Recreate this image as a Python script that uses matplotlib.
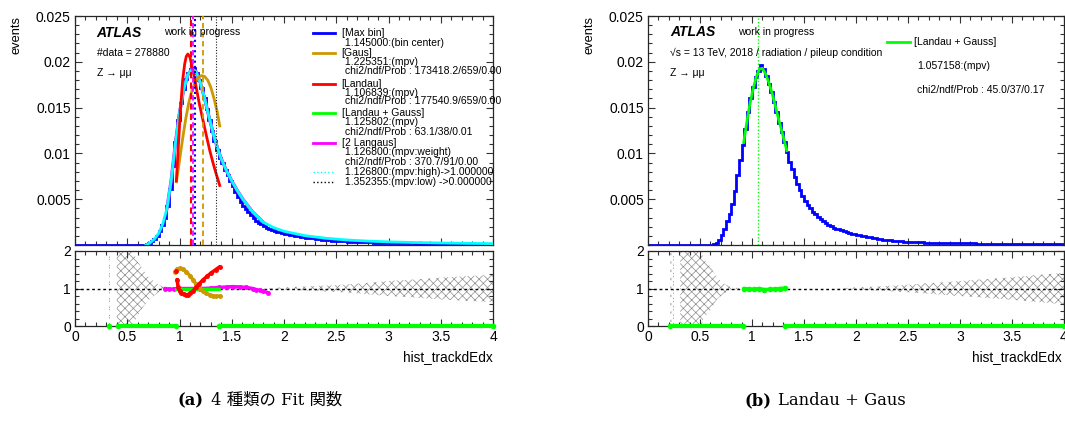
import numpy as np
import matplotlib
matplotlib.use('Agg')
import matplotlib.pyplot as plt
from matplotlib.lines import Line2D
from matplotlib.ticker import MultipleLocator, FuncFormatter

plt.rcParams['font.family'] = ['Liberation Sans', 'DejaVu Sans']
plt.rcParams['hatch.linewidth'] = 0.5
plt.rcParams['hatch.color'] = '0.55'

W, H = 1065, 421

BLUE, CYAN, RED = '#0000ff', '#00ffff', '#ff0000'
GOLD, GREEN, MAGENTA = '#cc9900', '#00ff00', '#ff00ff'

# binning: one empty bin below 0.6, fine bins over the peak, coarser tail
edges = np.concatenate([[0.0], np.linspace(0.6, 1.975, 56), np.linspace(2.0, 4.0, 41)])

# normalised dE/dx histograms (x 1e-3)
hist_left = np.array([
    0,
    0, 0, 0.02, 0.1, 0.25, 0.45, 0.7, 1.0,
    1.5, 2.2, 3.0, 4.3, 6.1, 8.6, 11.2, 13.6,
    15.5, 17.0, 18.1, 18.8, 19.2, 19.3, 18.8, 18.0,
    17.1, 16.0, 14.9, 13.7, 12.5, 11.4, 10.4, 9.5,
    8.9, 8.2, 7.6, 7.0, 6.4, 5.8, 5.2, 4.7,
    4.3, 3.9, 3.55, 3.25, 2.95, 2.65, 2.45, 2.25,
    2.05, 1.9, 1.78, 1.65, 1.55, 1.45, 1.37, 1.3,
    1.2, 1.08, 0.97, 0.88, 0.8, 0.72, 0.65, 0.59,
    0.54, 0.49, 0.45, 0.41, 0.38, 0.35, 0.32, 0.3,
    0.28, 0.26, 0.24, 0.23, 0.21, 0.2, 0.19, 0.18,
    0.17, 0.16, 0.15, 0.15, 0.14, 0.13, 0.13, 0.12,
    0.12, 0.11, 0.11, 0.1, 0.1, 0.1, 0.09, 0.09]) * 1e-3

hist_right = np.array([
    0,
    0.02, 0.08, 0.25, 0.6, 1.1, 1.8, 2.6, 3.4,
    4.5, 5.9, 7.6, 9.3, 10.9, 12.7, 14.5, 16.0,
    17.3, 18.3, 19.0, 19.6, 19.2, 18.4, 17.6, 16.7,
    15.6, 14.5, 13.3, 12.3, 11.2, 10.1, 9.1, 8.3,
    7.4, 6.7, 6.0, 5.4, 4.8, 4.4, 4.0, 3.65,
    3.35, 3.1, 2.85, 2.6, 2.4, 2.2, 2.05, 1.9,
    1.8, 1.7, 1.6, 1.5, 1.42, 1.33, 1.25, 1.15,
    1.05, 0.95, 0.85, 0.75, 0.64, 0.57, 0.5, 0.45,
    0.4, 0.37, 0.34, 0.31, 0.29, 0.27, 0.25, 0.23,
    0.22, 0.21, 0.2, 0.19, 0.18, 0.17, 0.17, 0.16,
    0.16, 0.15, 0.15, 0.14, 0.14, 0.13, 0.13, 0.12,
    0.12, 0.12, 0.11, 0.11, 0.1, 0.1, 0.1, 0.1]) * 1e-3

# fitted curves (x 1e-3)
langaus_x = np.array([0.68, 0.72, 0.76, 0.80, 0.84, 0.88, 0.92, 0.96, 1.00, 1.04, 1.08, 1.12,
                      1.16, 1.20, 1.24, 1.28, 1.32, 1.36, 1.40, 1.45, 1.50, 1.55, 1.60, 1.70,
                      1.80, 1.90, 2.0, 2.2, 2.4, 2.6, 2.8, 3.0, 3.25, 3.5, 3.75, 4.0])
langaus_y = np.array([0.0, 0.25, 0.65, 1.25, 2.3, 4.0, 7.0, 11.0, 14.4, 17.0, 18.6, 19.2,
                      18.9, 17.7, 16.0, 14.1, 12.3, 10.7, 9.4, 8.1, 7.0, 6.0, 5.1, 3.6,
                      2.5, 1.9, 1.5, 1.02, 0.74, 0.55, 0.43, 0.34, 0.27, 0.22, 0.18, 0.15]) * 1e-3

landau_x = np.array([0.97, 0.99, 1.01, 1.03, 1.05, 1.065, 1.08, 1.10, 1.13, 1.16, 1.19,
                     1.225, 1.26, 1.29, 1.32, 1.35, 1.385])
landau_y = np.array([7.0, 11.0, 14.9, 18.0, 19.8, 20.6, 20.85, 20.5, 19.0, 17.2, 15.4,
                     13.6, 11.8, 10.3, 9.0, 7.8, 6.5]) * 1e-3

gaus_x = np.array([0.97, 1.00, 1.03, 1.06, 1.09, 1.12, 1.15, 1.18, 1.21, 1.24, 1.27,
                   1.30, 1.33, 1.36, 1.385])
gaus_y = np.array([6.9, 9.2, 11.6, 13.8, 15.6, 16.9, 17.8, 18.3, 18.5, 18.4, 18.0,
                   17.2, 16.0, 14.6, 13.0]) * 1e-3

lg_right_x = np.array([0.92, 0.95, 0.98, 1.01, 1.04, 1.07, 1.10, 1.13, 1.16, 1.19, 1.22,
                       1.25, 1.28, 1.31, 1.335])
lg_right_y = np.array([11.2, 13.4, 15.4, 17.0, 18.3, 19.2, 19.3, 18.7, 17.8, 16.7, 15.4,
                       14.0, 12.7, 11.4, 10.3]) * 1e-3

# most probable values quoted in the legends
mpv_maxbin = 1.145000
mpv_gaus = 1.225351
mpv_landau = 1.106839
mpv_langaus_w = 1.126800
mpv_langaus_low = 1.352355
mpv_right = 1.057158

# ratio data / fit
ratio_landau_x = [0.964, np.nan, 0.977, 0.987, 1.0, 1.018, 1.04, 1.06, 1.08, 1.104, 1.13,
                  1.16, 1.19, 1.225, 1.265, 1.305, 1.345, 1.385]
ratio_landau_y = [1.47, np.nan, 1.24, 1.03, 0.94, 0.89, 0.85, 0.83, 0.84, 0.87, 0.94,
                  1.03, 1.13, 1.23, 1.33, 1.42, 1.5, 1.58]
ratio_gaus_x = [0.955, 0.98, 1.002, 1.03, 1.066, 1.10, 1.13, 1.16, 1.193, 1.225, 1.257,
                1.29, 1.32, 1.35, 1.384]
ratio_gaus_y = [1.45, 1.52, 1.54, 1.51, 1.45, 1.34, 1.23, 1.11, 1.0, 0.93, 0.87,
                0.83, 0.80, 0.79, 0.80]
ratio_langaus_x = [0.86, 0.9, 0.95, 1.0, 1.1, 1.2, 1.3, 1.38, 1.45, 1.51, 1.58, 1.64,
                   1.70, 1.735, 1.77, 1.80, 1.846]
ratio_langaus_y = [1.0, 0.98, 0.99, 1.0, 1.0, 1.0, 1.01, 1.03, 1.04, 1.05, 1.04, 1.03,
                   1.0, 0.97, 0.95, 0.93, 0.89]
ratio_lg_left_x = [0.97, 1.1, 1.25, 1.38]
ratio_lg_left_y = [1.0, 1.0, 1.0, 1.0]
zero_left_x = [0.33, np.nan, 0.41, 0.97, np.nan, 1.38, 4.0]
ratio_lg_right_x = [0.92, 0.97, 1.02, 1.07, 1.12, 1.17, 1.22, 1.27, 1.32]
ratio_lg_right_y = [1.0, 0.99, 0.98, 1.0, 0.97, 0.98, 0.99, 1.0, 1.01]
zero_right_x = [0.214, 0.918, np.nan, 1.32, 4.0]

# statistical uncertainty band around 1
band_left_x = [0.325, 0.325, 0.335, 0.335, 0.40, 0.40, 0.51, 0.55, 0.60, 0.65, 0.70, 0.75,
               0.80, 0.85, 0.90, 1.80, 2.00, 2.25, 2.50, 2.75, 3.00, 3.25, 3.50, 3.75, 4.00]
band_left_err = [0, 1.5, 1.5, 0, 0, 1.5, 1.5, 1.0, 0.72, 0.5, 0.32, 0.2,
                 0.1, 0.04, 0.0, 0.0, 0.03, 0.06, 0.09, 0.14, 0.2, 0.24, 0.29, 0.33, 0.36]
band_right_x = [0.215, 0.215, 0.225, 0.225, 0.24, 0.24, 0.25, 0.25, 0.31, 0.31, 0.49, 0.53,
                0.60, 0.66, 0.73, 0.79, 0.85, 0.90, 1.80, 2.00, 2.25, 2.50, 2.75, 3.00,
                3.25, 3.50, 3.75, 4.00]
band_right_err = [0, 1.5, 1.5, 0, 0, 1.5, 1.5, 0, 0, 1.5, 1.5, 0.8,
                  0.58, 0.3, 0.13, 0.05, 0.02, 0.0, 0.0, 0.03, 0.06, 0.1, 0.15, 0.2,
                  0.25, 0.3, 0.36, 0.42]

legend_left = [
    ('[Max bin]', BLUE, '-'),
    (' 1.145000:(bin center)', None, None),
    ('[Gaus]', GOLD, '-'),
    (' 1.225351:(mpv)', None, None),
    (' chi2/ndf/Prob : 173418.2/659/0.00', None, None),
    ('[Landau]', RED, '-'),
    (' 1.106839:(mpv)', None, None),
    (' chi2/ndf/Prob : 177540.9/659/0.00', None, None),
    ('[Landau + Gauss]', GREEN, '-'),
    (' 1.125802:(mpv)', None, None),
    (' chi2/ndf/Prob : 63.1/38/0.01', None, None),
    ('[2 Langaus]', MAGENTA, '-'),
    (' 1.126800:(mpv:weight)', None, None),
    (' chi2/ndf/Prob : 370.7/91/0.00', None, None),
    (' 1.126800:(mpv:high)->1.000000', CYAN, ':'),
    (' 1.352355:(mpv:low) ->0.000000', 'k', ':'),
]
legend_left_rows = [33.3, 43.3, 52.7, 61.7, 70.5, 84.3, 93.3, 101.5, 113.3, 121.7,
                    132.0, 143.3, 151.7, 161.7, 171.7, 181.7]


def fx(px):
    return px / W


def fy(py):
    return 1 - py / H


def style(ax, top):
    ax.set_xlim(0, 4)
    ax.xaxis.set_major_locator(MultipleLocator(0.5))
    ax.xaxis.set_minor_locator(MultipleLocator(0.1))
    ax.xaxis.set_major_formatter(FuncFormatter(lambda v, p: f'{v:g}'))
    ax.tick_params(which='both', direction='in', top=True, right=True,
                   width=0.8, color='0.2', labelsize=10, pad=3)
    ax.tick_params(which='major', length=5)
    ax.tick_params(which='minor', length=3)
    for s in ax.spines.values():
        s.set_linewidth(0.9)
        s.set_color('0.15')
    if top:
        ax.set_ylim(0, 0.025)
        ax.set_yticks([0.005, 0.01, 0.015, 0.02, 0.025])
        ax.yaxis.set_minor_locator(MultipleLocator(0.001))
        ax.yaxis.set_major_formatter(FuncFormatter(lambda v, p: f'{v:g}'))
        ax.tick_params(labelbottom=False)
    else:
        ax.set_ylim(0, 2)
        ax.set_yticks([0, 1, 2])
        ax.yaxis.set_minor_locator(MultipleLocator(0.2))
        ax.yaxis.set_major_formatter(FuncFormatter(lambda v, p: f'{v:g}'))


def ratio_panel(ax, bx, berr):
    bx = np.array(bx)
    berr = np.array(berr)
    ax.fill_between(bx, 1 - berr, 1 + berr, facecolor='none', edgecolor='0.55',
                    hatch='xxxx', linewidth=0, zorder=1)
    ax.axhline(1, color='k', ls=(0, (2, 2)), lw=1, zorder=2)


def zero_line(ax, xs):
    ax.plot(xs, np.zeros(len(xs)), color=GREEN, lw=3, solid_capstyle='round',
            marker='o', ms=3, clip_on=False, zorder=4)


fig = plt.figure(figsize=(W / 100, H / 100), dpi=100)

ax_lt = fig.add_axes([fx(75), fy(245), fx(493) - fx(75), fy(16) - fy(245)])
ax_lb = fig.add_axes([fx(75), fy(326), fx(493) - fx(75), fy(251) - fy(326)])
ax_rt = fig.add_axes([fx(648), fy(245), fx(1064) - fx(648), fy(16) - fy(245)])
ax_rb = fig.add_axes([fx(648), fy(326), fx(1064) - fx(648), fy(251) - fy(326)])
for a, top in [(ax_lt, True), (ax_lb, False), (ax_rt, True), (ax_rb, False)]:
    style(a, top)

# ---- left: four fit functions ----
ax_lt.stairs(hist_left, edges, color=BLUE, lw=2, zorder=2)
core = (langaus_x >= 0.96) & (langaus_x <= 1.38)
ax_lt.plot(langaus_x[core], langaus_y[core], color=GREEN, lw=2, zorder=3)
wide = (langaus_x >= 0.85) & (langaus_x <= 1.85)
ax_lt.plot(langaus_x[wide], langaus_y[wide], color=MAGENTA, lw=2.4, zorder=3)
ax_lt.plot(langaus_x, langaus_y, color=CYAN, lw=2, zorder=4)
ax_lt.plot(gaus_x, gaus_y, color=GOLD, lw=2, zorder=5)
ax_lt.plot(landau_x, landau_y, color=RED, lw=2, zorder=5)

ax_lt.axvline(mpv_landau, color=RED, ls=(0, (3, 2)), lw=1.5, zorder=6)
ax_lt.axvline(mpv_langaus_w, color=MAGENTA, ls=(0, (3, 2)), lw=1.3, zorder=6)
ax_lt.axvline(mpv_maxbin, color=BLUE, ls=(0, (1, 1.5)), lw=1.5, zorder=6)
ax_lt.axvline(mpv_gaus, color=GOLD, ls=(0, (3, 2)), lw=1.3, zorder=6)
ax_lt.axvline(mpv_langaus_low, color='0.1', ls=(0, (1, 1.5)), lw=0.8, zorder=6)

ratio_panel(ax_lb, band_left_x, band_left_err)
zero_line(ax_lb, zero_left_x)
ax_lb.plot(ratio_langaus_x, ratio_langaus_y, color=MAGENTA, lw=2.5, marker='o', ms=2.5,
           solid_capstyle='round', zorder=3)
ax_lb.plot(ratio_lg_left_x, ratio_lg_left_y, color=GREEN, lw=2.5, solid_capstyle='round', zorder=4)
ax_lb.plot(ratio_gaus_x, ratio_gaus_y, color=GOLD, lw=2.5, marker='o', ms=2.5,
           solid_capstyle='round', zorder=5)
ax_lb.plot(ratio_landau_x, ratio_landau_y, color=RED, lw=2.5, marker='o', ms=2.5,
           solid_capstyle='round', zorder=5)

# ---- right: Landau + Gauss ----
ax_rt.stairs(hist_right, edges, color=BLUE, lw=2, zorder=2)
ax_rt.plot(lg_right_x, lg_right_y, color=GREEN, lw=2, zorder=3)
ax_rt.axvline(mpv_right, color=GREEN, ls=(0, (1, 1.5)), lw=1, zorder=4)

ratio_panel(ax_rb, band_right_x, band_right_err)
zero_line(ax_rb, zero_right_x)
ax_rb.plot(ratio_lg_right_x, ratio_lg_right_y, color=GREEN, lw=2.5, marker='o', ms=3,
           solid_capstyle='round', zorder=4)

# ---- labels ----
small = 7.5
fig.text(fx(16.5), fy(16.5), 'events', rotation=90, ha='center', va='top', size=9.3)
fig.text(fx(589.5), fy(16.5), 'events', rotation=90, ha='center', va='top', size=9.3)
fig.text(fx(96.7), fy(36.7), 'ATLAS', weight='bold', style='italic', size=10,
         ha='left', va='baseline')
fig.text(fx(670), fy(36.2), 'ATLAS', weight='bold', style='italic', size=10,
         ha='left', va='baseline')
fig.text(fx(493), fy(356.7), 'hist_trackdEdx', ha='right', va='center', size=9.8)
fig.text(fx(1062), fy(356.7), 'hist_trackdEdx', ha='right', va='center', size=9.8)
fig.text(fx(164), fy(35.3), 'work in progress', size=small, ha='left', va='baseline')
fig.text(fx(738.3), fy(35.3), 'work in progress', size=small, ha='left', va='baseline')
fig.text(fx(96.7), fy(56.5), '#data = 278880', size=small, ha='left', va='baseline')
fig.text(fx(96.7), fy(75.8), 'Z → μμ', size=small, ha='left', va='baseline')
fig.text(fx(670), fy(56), '√s = 13 TeV, 2018 / radiation / pileup condition',
         size=small, ha='left', va='baseline')
fig.text(fx(670), fy(75.5), 'Z → μμ', size=small, ha='left', va='baseline')

for (label, col, ls), row in zip(legend_left, legend_left_rows):
    if col is not None:
        fig.add_artist(Line2D([fx(313), fx(335)], [fy(row), fy(row)], color=col,
                              ls=ls, lw=2 if ls == '-' else 1))
    fig.text(fx(341.5), fy(row), label, size=small, ha='left', va='center')

fig.add_artist(Line2D([fx(887), fx(910)], [fy(42), fy(42)], color=GREEN, lw=2))
fig.text(fx(914), fy(42), '[Landau + Gauss]', size=small, ha='left', va='center')
fig.text(fx(917.3), fy(66), '1.057158:(mpv)', size=small, ha='left', va='center')
fig.text(fx(917.3), fy(90), 'chi2/ndf/Prob : 45.0/37/0.17', size=small, ha='left', va='center')

# ---- sub-captions, centred under each panel ----
cap_font = ['DejaVu Serif', 'Noto Sans CJK JP']
cap_size = 11.8
renderer = fig.canvas.get_renderer()
for centre, tag_text, rest in [(260, '(a)', '4 種類の Fit 関数'), (825, '(b)', 'Landau + Gaus')]:
    tag = fig.text(0, fy(405), tag_text, weight='bold', family=cap_font, size=cap_size,
                   ha='left', va='baseline')
    body = fig.text(0, fy(405), rest, family=cap_font, size=cap_size,
                    ha='left', va='baseline')
    w_tag = tag.get_window_extent(renderer=renderer).width
    w_body = body.get_window_extent(renderer=renderer).width
    gap = 7
    x0 = centre - (w_tag + gap + w_body) / 2
    tag.set_x(fx(x0))
    body.set_x(fx(x0 + w_tag + gap))

fig.savefig('out.png', dpi=100)
